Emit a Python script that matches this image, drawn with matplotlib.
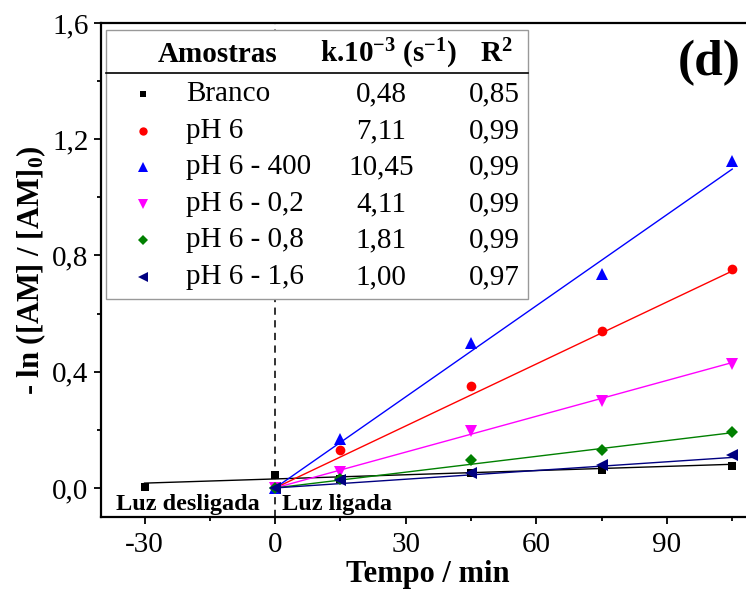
import matplotlib
matplotlib.use("Agg")
import matplotlib.pyplot as plt
from matplotlib.patches import Rectangle
from matplotlib.ticker import FuncFormatter, MultipleLocator

plt.rcParams["font.family"] = ["Liberation Serif", "DejaVu Serif"]
plt.rcParams["mathtext.fontset"] = "custom"
plt.rcParams["mathtext.rm"] = "Liberation Serif"
plt.rcParams["mathtext.it"] = "Liberation Serif:italic"
plt.rcParams["mathtext.bf"] = "Liberation Serif:bold"

# Sampling times (min) and -ln([AM]/[AM]0) values
t_branco = [-30, 0, 15, 45, 75, 105]
y_branco = [0.003, 0.045, 0.030, 0.050, 0.062, 0.077]

t_light = [0, 15, 45, 75, 105]
y_ph6 = [0.0, 0.131, 0.352, 0.541, 0.755]
y_ph6_400 = [0.0, 0.167, 0.499, 0.735, 1.126]
y_ph6_02 = [0.0, 0.056, 0.197, 0.299, 0.425]
y_ph6_08 = [0.0, 0.030, 0.097, 0.131, 0.193]
y_ph6_16 = [0.0, 0.027, 0.053, 0.079, 0.113]

# Table entries: sample name, rate constant (x10^-3), R^2
samples = ["Branco", "pH 6", "pH 6 - 400", "pH 6 - 0,2", "pH 6 - 0,8", "pH 6 - 1,6"]
k_values = [0.48, 7.11, 10.45, 4.11, 1.81, 1.00]
r2_values = [0.85, 0.99, 0.99, 0.99, 0.99, 0.97]
branco_intercept = 0.031

colors = ["black", "#ff0000", "#0000ff", "#ff00ff", "#008000", "#000080"]
markers = ["s", "o", "^", "v", "D", "<"]
msizes = [6, 7, 8, 8, 6, 8]

fig = plt.figure(figsize=(7.46, 5.89), dpi=100)
ax = fig.add_axes([101 / 746, 72 / 589, 653 / 746, 494 / 589])

series = [(t_branco, y_branco), (t_light, y_ph6), (t_light, y_ph6_400),
          (t_light, y_ph6_02), (t_light, y_ph6_08), (t_light, y_ph6_16)]

def comma(v):
    return f"{v:.2f}".replace(".", ",")

# Fitted first-order lines
for i, k in enumerate(k_values):
    slope = k * 1e-3
    if i == 0:
        x0, x1, b = -30, 105, branco_intercept
    else:
        x0, x1, b = 0, 105, 0.0
    ax.plot([x0, x1], [b + slope * x0, b + slope * x1], color=colors[i],
            lw=1.0, zorder=2)

for i, (t, y) in enumerate(series):
    ax.plot(t, y, linestyle="none", marker=markers[i], color=colors[i],
            markersize=msizes[i], markeredgewidth=0, zorder=3)

ax.axvline(0, color="#222222", lw=1.3, ls=(0, (4, 3)), zorder=1)

ax.set_xlim(-40, 110)
ax.set_ylim(-0.1, 1.6)
ax.xaxis.set_major_locator(MultipleLocator(30))
ax.xaxis.set_minor_locator(MultipleLocator(15))
ax.yaxis.set_major_locator(MultipleLocator(0.4))
ax.yaxis.set_minor_locator(MultipleLocator(0.2))
ax.xaxis.set_major_formatter(FuncFormatter(lambda v, p: f"{v:.0f}"))
ax.yaxis.set_major_formatter(FuncFormatter(lambda v, p: f"{v:.1f}".replace(".", ",")))
ax.tick_params(which="major", direction="out", length=5, width=1.3,
               labelsize=21, pad=4)
ax.tick_params(which="minor", direction="out", length=3, width=1.3)
ax.tick_params(axis="x", which="major", pad=6)
for s in ["left", "bottom", "top", "right"]:
    ax.spines[s].set_linewidth(1.6)

ax.set_xlabel("Tempo / min", fontsize=22, fontweight="bold", labelpad=1)
ax.set_ylabel(r"- ln ([AM] / [AM]$_\mathbf{0}$)", fontsize=22,
              fontweight="bold", labelpad=3)

ax.text(-36.6, -0.077, "Luz desligada", fontsize=17.5, fontweight="bold")
ax.text(1.5, -0.077, "Luz ligada", fontsize=17.5, fontweight="bold")

fig.text(741 / 746, 1 - 63 / 589, "(d)", fontsize=37, fontweight="bold",
         ha="right", va="center")

# Results table inside the axes
def fx(px):
    return (px - 101) / 653

def fy(py):
    return (517 - py) / 494

ax.add_patch(Rectangle((fx(106), fy(299)), fx(528) - fx(106), fy(30) - fy(299),
                       transform=ax.transAxes, facecolor="white",
                       edgecolor="#999999", lw=1.0, zorder=5))
ax.plot([fx(106), fx(528)], [fy(73), fy(73)], transform=ax.transAxes,
        color="black", lw=1.2, zorder=6)

hdr_y = fy(54)
ax.text(fx(218), hdr_y, "Amostras", transform=ax.transAxes, fontsize=21,
        fontweight="bold", ha="center", va="center", zorder=6)
ax.text(fx(388), hdr_y, r"k.10$^{\mathbf{-3}}$ (s$^{\mathbf{-1}}$)",
        transform=ax.transAxes, fontsize=21, fontweight="bold",
        ha="center", va="center", zorder=6)
ax.text(fx(496), hdr_y, r"R$^{\mathbf{2}}$", transform=ax.transAxes,
        fontsize=21, fontweight="bold", ha="center", va="center", zorder=6)

row_y = [94, 131, 167, 204, 240, 277]
for i, name in enumerate(samples):
    yy = fy(row_y[i])
    ax.plot([fx(143)], [yy], transform=ax.transAxes, linestyle="none",
            marker=markers[i], color=colors[i], markersize=msizes[i] - 1,
            markeredgewidth=0, zorder=6, clip_on=False)
    ax.text(fx(186), yy, name, transform=ax.transAxes, fontsize=21,
            ha="left", va="center", zorder=6)
    ax.text(fx(381), yy, comma(k_values[i]), transform=ax.transAxes,
            fontsize=21, ha="center", va="center", zorder=6)
    ax.text(fx(494), yy, comma(r2_values[i]), transform=ax.transAxes,
            fontsize=21, ha="center", va="center", zorder=6)

fig.savefig("out.png", dpi=100)
